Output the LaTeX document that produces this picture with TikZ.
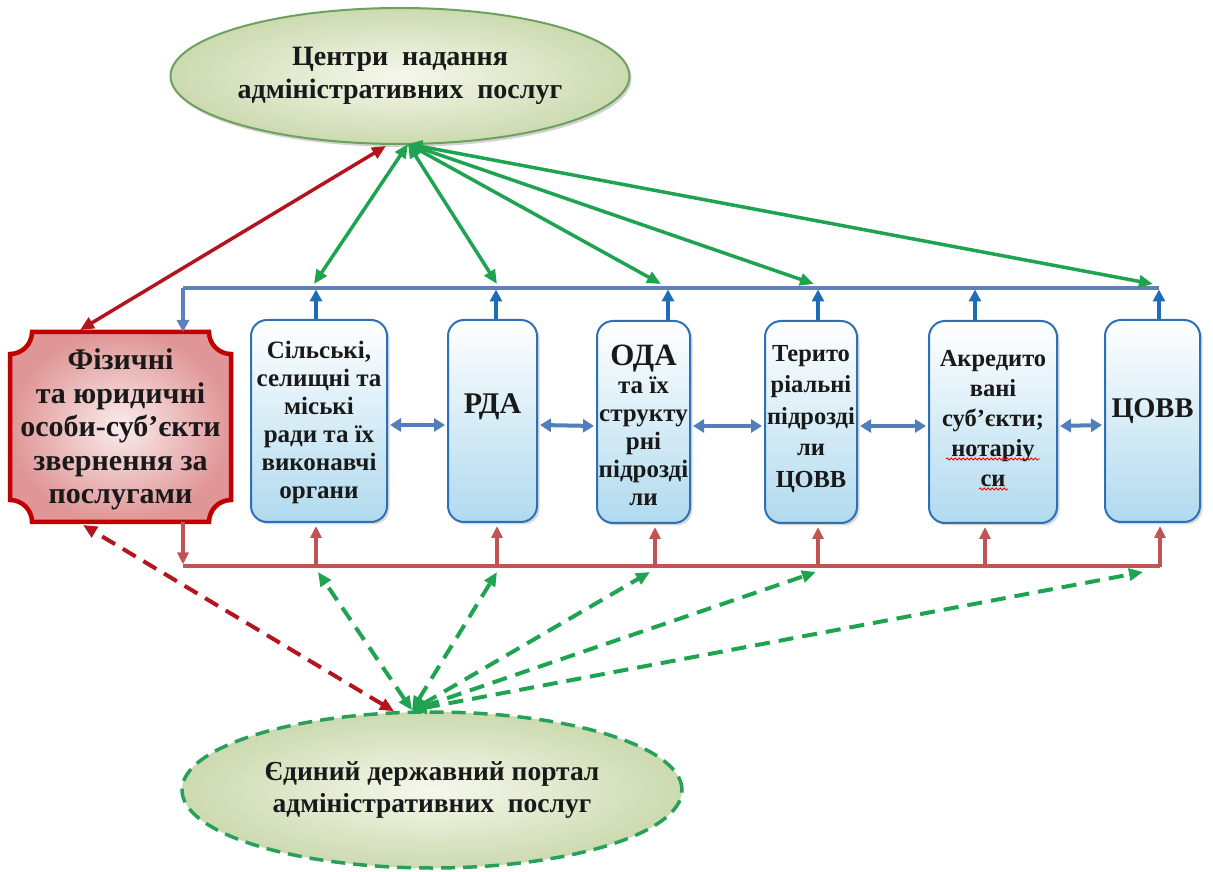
\documentclass[tikz,border=0pt]{standalone}
\usepackage{fontspec}
\setmainfont{Liberation Serif}
\usetikzlibrary{arrows.meta,shapes.geometric,shadows,decorations.pathmorphing}
\definecolor{arrgreen}{RGB}{30,163,80}
\definecolor{darkred}{RGB}{180,20,30}
\definecolor{busblue}{RGB}{95,128,184}
\definecolor{upblue}{RGB}{28,108,182}
\definecolor{busred}{RGB}{192,84,84}
\definecolor{harrblue}{RGB}{82,126,186}
\definecolor{boxborder}{RGB}{46,112,182}
\definecolor{boxfill}{RGB}{176,218,238}
\definecolor{ellin}{RGB}{246,248,236}
\definecolor{ellout}{RGB}{204,218,176}
\definecolor{ellborder}{RGB}{110,160,95}
\definecolor{dashborder}{RGB}{40,160,90}
\definecolor{plqborder}{RGB}{192,0,0}
\definecolor{plqin}{RGB}{250,236,236}
\definecolor{plqout}{RGB}{224,150,150}
\definecolor{txt}{RGB}{25,25,25}
\newcommand\smf{\fontsize{25}{28.5}\selectfont}
\begin{document}
\begin{tikzpicture}[x=1pt,y=1pt,
  greenarr/.style={draw=arrgreen,line width=3.5pt,{Triangle[length=14pt,width=12pt]}-{Triangle[length=14pt,width=12pt]}},
  greendash/.style={greenarr,line width=4pt,dash pattern=on 15pt off 9pt},
  redarr/.style={draw=darkred,line width=3.5pt,{Triangle[length=14pt,width=12pt]}-{Triangle[length=14pt,width=12pt]}},
  reddash/.style={redarr,line width=4pt,dash pattern=on 15pt off 9pt},
  busb/.style={draw=busblue,line width=3.5pt},
  upb/.style={draw=upblue,line width=4pt,-{Triangle[length=12pt,width=12pt]}},
  downb/.style={draw=busblue,line width=3.5pt,-{Triangle[length=12pt,width=12pt]}},
  busr/.style={draw=busred,line width=3.5pt},
  upr/.style={draw=busred,line width=3.5pt,-{Triangle[length=12pt,width=11pt]}},
  harr/.style={draw=harrblue,line width=4pt,{Triangle[length=11pt,width=13pt]}-{Triangle[length=11pt,width=13pt]}},
  bluebox/.style={rectangle,rounded corners=16pt,draw=boxborder,line width=2pt,
    top color=white,bottom color=boxfill,minimum height=202pt,inner sep=0pt,
    drop shadow={shadow xshift=2.5pt,shadow yshift=-2.5pt,opacity=0.3}},
  boxtext/.style={inner sep=0pt,align=center,text=txt,font=\fontsize{25}{28}\selectfont\bfseries},
  ell/.style={ellipse,inner sep=0pt,align=center,text=txt,
    inner color=ellin,outer color=ellout},
  wavy/.style={draw=red,line width=0.8pt,decorate,decoration={snake,amplitude=1pt,segment length=4pt}}
]
\useasboundingbox (0,0) rectangle (1213,871);

% ellipses
\node[ell,minimum width=456pt,minimum height=136pt,draw=ellborder,line width=2pt,
  font=\fontsize{28}{33}\selectfont\bfseries,
  drop shadow={shadow xshift=2pt,shadow yshift=-3pt,opacity=0.35}] (cnap) at (400,795)
  {Центри\ \ надання\\адміністративних\ \ послуг};
\node[ell,minimum width=500pt,minimum height=156pt,draw=dashborder,line width=3.5pt,
  font=\fontsize{27.5}{32}\selectfont\bfseries,
  dash pattern=on 14pt off 8pt] (portal) at (432,81)
  {Єдиний державний портал\\адміністративних\ \ послуг};

% plaque
\coordinate (p0) at (10,349);
\coordinate (p1) at (231,539);
\path[draw=plqborder,line width=4.5pt,inner color=plqin,outer color=plqout,
  drop shadow={shadow xshift=2pt,shadow yshift=-2pt,opacity=0.3}]
  (10,371) -- (10,517) arc[start angle=270,end angle=360,radius=22pt]
  -- (209,539) arc[start angle=180,end angle=270,radius=22pt]
  -- (231,371) arc[start angle=90,end angle=180,radius=22pt]
  -- (32,349) arc[start angle=0,end angle=90,radius=22pt] -- cycle;
\node[inner sep=0pt,align=center,text=txt,
  font=\fontsize{30}{33.5}\selectfont\bfseries] (fiz) at (120.5,441.5)
  {Фізичні\\та юридичні\\особи-суб’єкти\\звернення за\\послугами};

% blue boxes
\node[bluebox,minimum width=136pt] (b1) at (319,450) {};
\node[bluebox,minimum width=89pt] (b2) at (492.5,450) {};
\node[bluebox,minimum width=93pt] (b3) at (643.5,449) {};
\node[bluebox,minimum width=92pt] (b4) at (811,449) {};
\node[bluebox,minimum width=128pt] (b5) at (993,449) {};
\node[bluebox,minimum width=95pt] (b6) at (1152.5,450) {};

\node[boxtext] (b1t) at ([yshift=-1pt]b1.center)
  {Сільські,\\селищні та\\міські\\ради та їх\\виконавчі\\органи};
\node[boxtext,font=\fontsize{30}{36}\selectfont\bfseries] (b2t) at ([yshift=14pt]b2.center) {РДА};
\node[boxtext] (b3t) at ([yshift=-3pt]b3.center)
  {\fontsize{31}{33}\selectfont ОДА\\\smf та їх\\\smf структу\\\smf рні\\\smf підрозді\\\smf ли};
\node[boxtext,font=\fontsize{24.5}{31.5}\selectfont\bfseries] (b4t) at ([yshift=3pt]b4.center)
  {Терито\\ріальні\\підрозді\\ли\\ЦОВВ};
\node[boxtext,font=\fontsize{24.5}{30}\selectfont\bfseries] (b5t) at ([yshift=3pt]b5.center)
  {Акредито\\вані\\суб’єкти;\\нотаріу\\си};
\node[boxtext,font=\fontsize{28.5}{36}\selectfont\bfseries] (b6t) at ([yshift=10pt]b6.center) {ЦОВВ};

% spell-check underlines
\draw[wavy] (946,412) -- (1040,412);
\draw[wavy] (979,382) -- (1008,382);

% horizontal arrows
\foreach \a/\b in {b1/b2,b2/b3,b3/b4,b4/b5,b5/b6}
  \draw[harr] ([yshift=-4pt,xshift=2pt]\a.east) -- ([yshift=-4pt,xshift=-2pt]\b.west);

% top bus
\coordinate (bt0) at (183,583);
\coordinate (bt1) at (316,583);
\coordinate (bt2) at (496,583);
\coordinate (bt3) at (668,583);
\coordinate (bt4) at (818,583);
\coordinate (bt5) at (975,583);
\coordinate (bt6) at (1159,583);
\draw[busb] (bt0) -- (bt6);
\draw[downb] (bt0) -- (bt0 |- p1);
\foreach \i in {1,...,6}
  \draw[upb] (b\i.north -| bt\i) -- ([yshift=-1.5pt]bt\i);

% bottom bus
\coordinate (bb0) at (183,305);
\coordinate (bb1) at (316,305);
\coordinate (bb2) at (497,305);
\coordinate (bb3) at (655,305);
\coordinate (bb4) at (818,305);
\coordinate (bb5) at (985,305);
\coordinate (bb6) at (1160,305);
\draw[busr] (bb0) -- (bb6);
\draw[upr] (bb0 |- p0) -- ([yshift=1.5pt]bb0);
\foreach \i in {1,...,6}
  \draw[upr] ([yshift=-1.5pt]bb\i) -- ([yshift=-3pt]b\i.south -| bb\i);

% green arrows from top ellipse
\coordinate (gt1) at (314,587);
\coordinate (gt2) at (497,587);
\coordinate (gt3) at (661,587);
\coordinate (gt4) at (814,587);
\coordinate (gt5) at (1153,587);
\foreach \i in {1,...,5}
  \draw[greenarr] ([xshift=8pt,yshift=1pt]cnap.south) -- (gt\i);
\coordinate (fr) at (80,541);
\draw[redarr] ([xshift=-14pt,yshift=-1pt]cnap.south) -- (fr);

% dashed arrows to bottom ellipse
\coordinate (gd1) at (318,299);
\coordinate (gd2) at (497,299);
\coordinate (gd3) at (650,299);
\coordinate (gd4) at (816,299);
\coordinate (gd5) at (1143,299);
\foreach \i in {1,...,5}
  \draw[greendash] ([xshift=-20pt]portal.north) -- (gd\i);
\coordinate (fd) at (83,346);
\draw[reddash] ([xshift=-38pt,yshift=-1pt]portal.north) -- (fd);
\end{tikzpicture}
\end{document}
